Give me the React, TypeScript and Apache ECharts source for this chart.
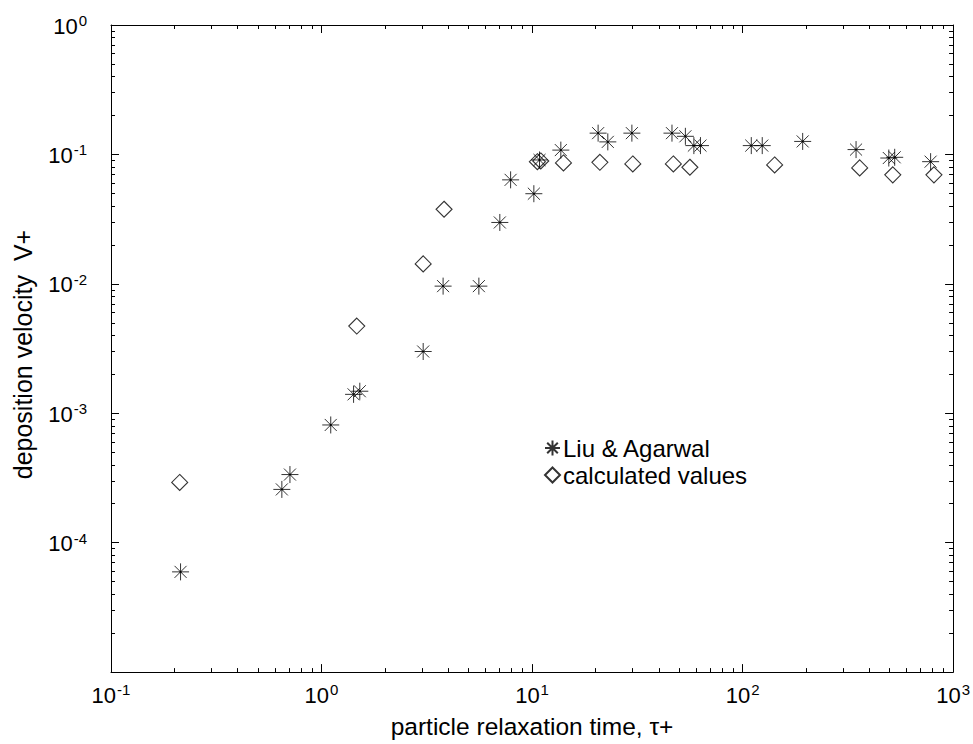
import React, { useEffect, useRef } from "react";
import * as echarts from "echarts";

const liuX = [0.214, 0.648, 0.708, 1.106, 1.42, 1.52, 3.04, 3.78, 5.59, 7.03, 7.91, 10.2, 10.85, 13.7, 20.6, 22.9, 29.8, 46.2, 53.5, 58.7, 63.1, 110, 124, 193, 346, 495, 528, 782];
const liuY = [5.95e-5, 2.58e-4, 3.36e-4, 8.12e-4, 1.40e-3, 1.48e-3, 3.0e-3, 9.6e-3, 9.6e-3, 0.0298, 0.0636, 0.0497, 0.0906, 0.108, 0.146, 0.125, 0.146, 0.146, 0.138, 0.117, 0.117, 0.117, 0.117, 0.126, 0.109, 0.0938, 0.095, 0.0879];
const calcX = [0.212, 1.47, 3.04, 3.82, 10.6, 11.0, 14.1, 21.0, 30.1, 46.9, 56.2, 142, 360, 517, 811];
const calcY = [2.92e-4, 4.72e-3, 0.01426, 0.0377, 0.0879, 0.0890, 0.0859, 0.0869, 0.0844, 0.0844, 0.0796, 0.0829, 0.0787, 0.0695, 0.0695];

const seriesNames = ["Liu & Agarwal", "calculated values"];
const xName = "particle relaxation time, \u03c4+";
const yName = "deposition velocity \u00a0V+";

const FONT = "'Liberation Sans', Arial, Helvetica, sans-serif";
const STAR = "path://M0,-8L0,8M-8,0L8,0M-5.66,-5.66L5.66,5.66M-5.66,5.66L5.66,-5.66M-0.8,-0.8L0.8,0.8M-0.8,0.8L0.8,-0.8";

function expLabel(hide: number[]) {
  return (v: number) => {
    const e = Math.round(Math.log10(v));
    if (hide.includes(e)) return "";
    return `{b|10}{s|${e}}`;
  };
}

const rich = {
  b: { fontSize: 22, fontFamily: FONT, color: "#000", lineHeight: 24, verticalAlign: "bottom" },
  s: { fontSize: 15, fontFamily: FONT, color: "#000", lineHeight: 24, verticalAlign: "top", padding: [0, 0, 12, 1] },
};

export default function App() {
  const ref = useRef<HTMLDivElement>(null);
  useEffect(() => {
    if (!ref.current) return;
    const chart = echarts.init(ref.current, undefined, { renderer: "svg" });
    const axisCommon = {
      type: "log" as const,
      logBase: 10,
      axisLine: { show: true, lineStyle: { color: "#000", width: 1 } },
      axisTick: { show: true, inside: true, length: 8, lineStyle: { color: "#000" } },
      minorTick: { show: true, splitNumber: 9, length: 4, lineStyle: { color: "#000" } },
      splitLine: { show: false },
      minorSplitLine: { show: false },
    };
    chart.setOption({
      animation: false,
      backgroundColor: "#fff",
      grid: { left: 111, right: 15, top: 25, bottom: 67, containLabel: false },
      legend: {
        orient: "vertical",
        left: 544,
        top: 436,
        padding: 0,
        itemWidth: 15,
        itemHeight: 15,
        itemGap: 3,
        data: seriesNames,
        textStyle: { fontSize: 24, lineHeight: 24, fontFamily: FONT, color: "#000", padding: [0, 0, 0, -2] },
      },
      xAxis: [
        {
          ...axisCommon,
          position: "bottom",
          min: 0.1,
          max: 1000,
          name: xName,
          nameLocation: "middle",
          nameGap: 40,
          nameTextStyle: { fontSize: 24.5, fontFamily: FONT, color: "#000" },
          axisLabel: { formatter: expLabel([]), rich, margin: 10 },
        },
        {
          ...axisCommon,
          position: "top",
          min: 0.1,
          max: 1000,
          axisLabel: { show: false },
        },
      ],
      yAxis: [
        {
          ...axisCommon,
          position: "left",
          min: 1e-5,
          max: 1,
          name: yName,
          nameLocation: "middle",
          nameGap: 76,
          nameTextStyle: { fontSize: 25, fontFamily: FONT, color: "#000", padding: [0, 12, 0, 0] },
          axisLabel: { formatter: expLabel([-5]), rich, margin: 24 },
        },
        {
          ...axisCommon,
          position: "right",
          min: 1e-5,
          max: 1,
          axisLabel: { show: false },
        },
      ],
      series: [
        {
          name: seriesNames[0],
          type: "scatter",
          symbol: STAR,
          symbolSize: 17,
          itemStyle: { color: "#000", borderColor: "#000", borderWidth: 1 },
          data: liuX.map((x, i) => [x, liuY[i]]),
        },
        {
          name: seriesNames[1],
          type: "scatter",
          symbol: "diamond",
          symbolSize: 16,
          itemStyle: { color: "rgba(255,255,255,0)", borderColor: "#000", borderWidth: 1.1 },
          data: calcX.map((x, i) => [x, calcY[i]]),
        },
      ],
    });
    return () => chart.dispose();
  }, []);
  return <div ref={ref} style={{ position: "absolute", left: 0, top: 0, width: 973, height: 744 }} />;
}
